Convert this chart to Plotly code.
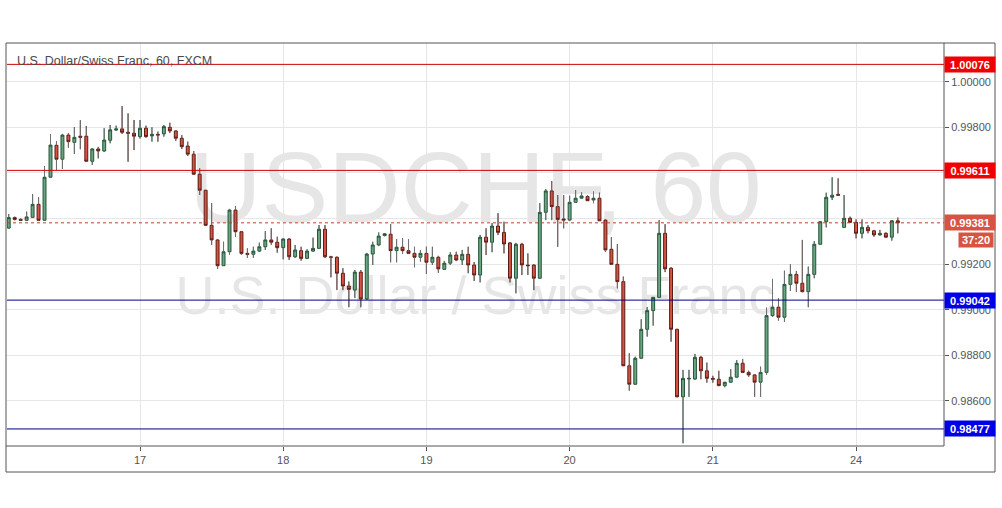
import plotly.graph_objects as go

# ---------------- data ----------------
title_text = "U.S. Dollar/Swiss Franc, 60, FXCM"
watermark_symbol = "USDCHF, 60"
watermark_name = "U.S. Dollar / Swiss Franc"

day_labels = ["17", "18", "19", "20", "21", "24"]
day_bar_index = [22, 46, 70, 94, 118, 142]

price_ticks = [0.986, 0.988, 0.990, 0.992, 0.994, 0.996, 0.998, 1.000]
# 0.99400 and 0.99600 sit fully behind the price labels in the reference
price_tick_labels = ["0.98600", "0.98800", "0.99000", "0.99200", "", "", "0.99800", "1.00000"]

resistance_levels = [1.00076, 0.99611]
support_levels = [0.99042, 0.98477]
last_price = 0.99381
countdown_text = "37:20"

open_ = [0.99358, 0.99404, 0.99396, 0.99392, 0.99405, 0.99462, 0.99392, 0.99581, 0.99721, 0.99660,
         0.99766, 0.99734, 0.99761, 0.99761, 0.99651, 0.99705, 0.99696, 0.99743, 0.99788, 0.99793,
         0.99778, 0.99774, 0.99759, 0.99796, 0.99762, 0.99769, 0.99771, 0.99800, 0.99784, 0.99752,
         0.99718, 0.99682, 0.99594, 0.99524, 0.99370, 0.99306, 0.99193, 0.99254, 0.99437, 0.99342,
         0.99247, 0.99243, 0.99257, 0.99276, 0.99306, 0.99296, 0.99272, 0.99310, 0.99232, 0.99259,
         0.99225, 0.99257, 0.99269, 0.99353, 0.99232, 0.99230, 0.99160, 0.99104, 0.99086, 0.99165,
         0.99047, 0.99244, 0.99284, 0.99325, 0.99331, 0.99259, 0.99274, 0.99259, 0.99247, 0.99230,
         0.99247, 0.99208, 0.99230, 0.99177, 0.99204, 0.99240, 0.99218, 0.99243, 0.99196, 0.99152,
         0.99318, 0.99296, 0.99367, 0.99339, 0.99293, 0.99138, 0.99287, 0.99196, 0.99196, 0.99138,
         0.99427, 0.99521, 0.99452, 0.99398, 0.99393, 0.99471, 0.99489, 0.99496, 0.99481, 0.99489,
         0.99393, 0.99265, 0.99199, 0.99123, 0.98754, 0.98673, 0.98787, 0.98914, 0.98996, 0.99054,
         0.99335, 0.99182, 0.98914, 0.98618, 0.98696, 0.98696, 0.98791, 0.98732, 0.98699, 0.98695,
         0.98667, 0.98682, 0.98704, 0.98765, 0.98725, 0.98714, 0.98682, 0.98725, 0.98974, 0.99011,
         0.98967, 0.99111, 0.99155, 0.99116, 0.99079, 0.99155, 0.99287, 0.99386, 0.99493, 0.99506,
         0.99361, 0.99401, 0.99383, 0.99335, 0.99361, 0.99346, 0.99328, 0.99335, 0.99318, 0.99390]

high = [0.99420, 0.99408, 0.99400, 0.99430, 0.99507, 0.99493, 0.99629, 0.99769, 0.99740, 0.99771,
        0.99775, 0.99801, 0.99831, 0.99806, 0.99709, 0.99714, 0.99796, 0.99810, 0.99807, 0.99893,
        0.99861, 0.99832, 0.99832, 0.99807, 0.99800, 0.99781, 0.99810, 0.99820, 0.99788, 0.99766,
        0.99737, 0.99696, 0.99620, 0.99525, 0.99467, 0.99308, 0.99298, 0.99442, 0.99455, 0.99344,
        0.99269, 0.99276, 0.99294, 0.99345, 0.99357, 0.99320, 0.99314, 0.99314, 0.99284, 0.99276,
        0.99265, 0.99316, 0.99371, 0.99371, 0.99236, 0.99233, 0.99182, 0.99123, 0.99174, 0.99174,
        0.99249, 0.99298, 0.99339, 0.99336, 0.99376, 0.99310, 0.99313, 0.99310, 0.99276, 0.99262,
        0.99276, 0.99276, 0.99236, 0.99214, 0.99252, 0.99254, 0.99262, 0.99276, 0.99209, 0.99328,
        0.99357, 0.99380, 0.99423, 0.99386, 0.99297, 0.99293, 0.99293, 0.99247, 0.99200, 0.99467,
        0.99529, 0.99564, 0.99503, 0.99503, 0.99500, 0.99525, 0.99515, 0.99503, 0.99518, 0.99513,
        0.99395, 0.99318, 0.99288, 0.99145, 0.98809, 0.98794, 0.98958, 0.99011, 0.99056, 0.99393,
        0.99375, 0.99186, 0.98916, 0.98736, 0.98736, 0.98806, 0.98797, 0.98768, 0.98710, 0.98732,
        0.98683, 0.98739, 0.98779, 0.98784, 0.98732, 0.98716, 0.98750, 0.99009, 0.99135, 0.99050,
        0.99171, 0.99199, 0.99170, 0.99306, 0.99189, 0.99301, 0.99389, 0.99513, 0.99581, 0.99576,
        0.99503, 0.99408, 0.99396, 0.99396, 0.99371, 0.99350, 0.99350, 0.99339, 0.99393, 0.99404]

low = [0.99354, 0.99392, 0.99389, 0.99391, 0.99404, 0.99391, 0.99391, 0.99578, 0.99613, 0.99617,
       0.99711, 0.99683, 0.99704, 0.99648, 0.99635, 0.99664, 0.99692, 0.99730, 0.99784, 0.99771,
       0.99649, 0.99700, 0.99751, 0.99755, 0.99737, 0.99737, 0.99759, 0.99775, 0.99741, 0.99705,
       0.99674, 0.99591, 0.99503, 0.99367, 0.99284, 0.99179, 0.99192, 0.99240, 0.99320, 0.99240,
       0.99228, 0.99228, 0.99253, 0.99262, 0.99285, 0.99250, 0.99221, 0.99218, 0.99227, 0.99215,
       0.99224, 0.99253, 0.99266, 0.99227, 0.99142, 0.99086, 0.99086, 0.99011, 0.99051, 0.99011,
       0.99043, 0.99196, 0.99279, 0.99322, 0.99208, 0.99208, 0.99244, 0.99244, 0.99186, 0.99211,
       0.99157, 0.99196, 0.99162, 0.99174, 0.99196, 0.99213, 0.99196, 0.99160, 0.99126, 0.99120,
       0.99240, 0.99252, 0.99328, 0.99247, 0.99120, 0.99072, 0.99152, 0.99152, 0.99086, 0.99135,
       0.99393, 0.99393, 0.99276, 0.99357, 0.99389, 0.99468, 0.99486, 0.99477, 0.99467, 0.99389,
       0.99254, 0.99197, 0.99094, 0.98753, 0.98645, 0.98670, 0.98784, 0.98882, 0.98930, 0.99051,
       0.99165, 0.98860, 0.98616, 0.98414, 0.98618, 0.98692, 0.98695, 0.98680, 0.98680, 0.98665,
       0.98660, 0.98679, 0.98700, 0.98722, 0.98706, 0.98618, 0.98618, 0.98714, 0.98968, 0.98952,
       0.98947, 0.99082, 0.99079, 0.99077, 0.99011, 0.99138, 0.99284, 0.99361, 0.99481, 0.99499,
       0.99358, 0.99381, 0.99313, 0.99313, 0.99335, 0.99320, 0.99325, 0.99317, 0.99303, 0.99335]

close = [0.99404, 0.99396, 0.99392, 0.99407, 0.99462, 0.99392, 0.99581, 0.99722, 0.99660, 0.99766,
         0.99737, 0.99756, 0.99756, 0.99651, 0.99705, 0.99696, 0.99744, 0.99789, 0.99793, 0.99778,
         0.99774, 0.99761, 0.99796, 0.99759, 0.99769, 0.99766, 0.99803, 0.99784, 0.99752, 0.99715,
         0.99682, 0.99594, 0.99524, 0.99370, 0.99306, 0.99193, 0.99254, 0.99437, 0.99342, 0.99247,
         0.99243, 0.99257, 0.99276, 0.99306, 0.99296, 0.99272, 0.99310, 0.99232, 0.99262, 0.99225,
         0.99257, 0.99269, 0.99353, 0.99232, 0.99230, 0.99160, 0.99104, 0.99089, 0.99165, 0.99047,
         0.99244, 0.99284, 0.99323, 0.99333, 0.99259, 0.99274, 0.99259, 0.99247, 0.99230, 0.99247,
         0.99208, 0.99230, 0.99179, 0.99204, 0.99240, 0.99218, 0.99243, 0.99196, 0.99152, 0.99318,
         0.99296, 0.99367, 0.99339, 0.99288, 0.99138, 0.99287, 0.99196, 0.99193, 0.99138, 0.99427,
         0.99521, 0.99452, 0.99396, 0.99393, 0.99471, 0.99489, 0.99499, 0.99478, 0.99489, 0.99390,
         0.99262, 0.99199, 0.99123, 0.98754, 0.98673, 0.98787, 0.98914, 0.98996, 0.99054, 0.99335,
         0.99179, 0.98914, 0.98618, 0.98699, 0.98699, 0.98791, 0.98732, 0.98699, 0.98695, 0.98667,
         0.98682, 0.98704, 0.98765, 0.98725, 0.98714, 0.98682, 0.98725, 0.98974, 0.99011, 0.98967,
         0.99111, 0.99155, 0.99116, 0.99079, 0.99155, 0.99287, 0.99386, 0.99493, 0.99502, 0.99502,
         0.99401, 0.99383, 0.99335, 0.99361, 0.99346, 0.99328, 0.99335, 0.99318, 0.99390, 0.99381]

# ---------------- styling ----------------
FONT = "Liberation Sans"
UP_FILL, UP_LINE = "#6ba583", "#225437"
DN_FILL, DN_LINE = "#d75442", "#5b1a13"
WICK = "#737375"
GRID = "#e6e6e6"
FRAME = "#555555"
TXT = "#555555"

bars = list(range(len(open_)))

fig = go.Figure()

# watermark (base hidden axes, drawn under the candles)
fig.add_trace(go.Scatter(
    x=[0.5, 0.5], y=[0.617, 0.362], mode="text",
    text=[watermark_symbol, watermark_name],
    textfont=dict(family=FONT, size=[100, 54], color="#e6e6e6"),
    xaxis="x", yaxis="y", hoverinfo="skip", showlegend=False))

fig.add_trace(go.Candlestick(
    x=bars, open=open_, high=high, low=low, close=close,
    xaxis="x2", yaxis="y2", whiskerwidth=0,
    increasing=dict(fillcolor=UP_FILL, line=dict(color=UP_LINE, width=1)),
    decreasing=dict(fillcolor=DN_FILL, line=dict(color=DN_LINE, width=1)),
    hoverinfo="skip", showlegend=False))

# grey wicks on top of candle whiskers
wx, wy = [], []
for i, (o, h, l, c) in enumerate(zip(open_, high, low, close)):
    top, bot = max(o, c), min(o, c)
    wx += [i, i, None, i, i, None]
    wy += [h, top, None, bot, l, None]
fig.add_trace(go.Scatter(x=wx, y=wy, mode="lines", line=dict(color=WICK, width=1),
                         xaxis="x2", yaxis="y2", hoverinfo="skip", showlegend=False))

# ---------------- shapes ----------------
shapes = []
for lv in resistance_levels:
    shapes.append(dict(type="line", xref="paper", yref="y2", x0=0, x1=1, y0=lv, y1=lv,
                       line=dict(color="#cc0000", width=1)))
for lv in support_levels:
    shapes.append(dict(type="line", xref="paper", yref="y2", x0=0, x1=1, y0=lv, y1=lv,
                       line=dict(color="#000080", width=1)))
shapes.append(dict(type="line", xref="paper", yref="y2", x0=0, x1=1, y0=last_price, y1=last_price,
                   line=dict(color="#b5452f", width=1, dash="dot")))

PW, PH = 937.0, 403.0
xl = -1.0 / PW
xr = (995.0 - 7.0) / PW
yb = -26.0 / PH
frame_lines = [
    (xl, 1, xr, 1), (xl, yb, xr, yb), (xl, yb, xl, 1), (xr, yb, xr, 1),
    (xl, 0, 1, 0), (1, 0, 1, 1),
]
for x0, y0, x1, y1 in frame_lines:
    shapes.append(dict(type="line", xref="paper", yref="paper", x0=x0, y0=y0, x1=x1, y1=y1,
                       line=dict(color=FRAME, width=1)))

# ---------------- annotations ----------------
ann = [dict(text=title_text, xref="paper", yref="paper", x=8.0 / PW, y=(446 - 60.5) / PH,
            xanchor="left", yanchor="middle", showarrow=False,
            font=dict(family=FONT, size=12.5, color="#4a4a4a"))]


def price_label(val, bg):
    return dict(text=f"{val:.5f}", xref="paper", yref="y2", x=1.0, y=val,
                xanchor="left", yanchor="middle", showarrow=False,
                bgcolor=bg, width=48, height=13, borderpad=1, align="center",
                font=dict(family=FONT, size=11, color="white", weight="bold"))


for lv in resistance_levels:
    ann.append(price_label(lv, "#f00000"))
for lv in support_levels:
    ann.append(price_label(lv, "#0000e6"))
ann.append(price_label(last_price, DN_FILL))
ann.append(dict(text=countdown_text, xref="paper", yref="y2", x=(994.0 - 7.0) / PW, y=last_price,
                yshift=-17, xanchor="right", yanchor="middle", showarrow=False,
                bgcolor=DN_FILL, width=32, height=12, borderpad=1, align="center",
                font=dict(family=FONT, size=11, color="white", weight="bold")))

fig.update_layout(
    width=1002, height=508,
    margin=dict(l=7, r=58, t=43, b=62),
    paper_bgcolor="white", plot_bgcolor="white",
    showlegend=False, hovermode=False,
    shapes=shapes, annotations=ann,
    xaxis=dict(range=[0, 1], visible=False, fixedrange=True, rangeslider=dict(visible=False)),
    yaxis=dict(range=[0, 1], visible=False, fixedrange=True),
    xaxis2=dict(overlaying="x", anchor="y2", side="bottom",
                range=[-0.29, 156.74], tickmode="array",
                tickvals=day_bar_index, ticktext=day_labels,
                showgrid=True, gridcolor=GRID, gridwidth=1, zeroline=False, showline=False,
                ticks="outside", ticklen=4, tickcolor=FRAME,
                tickfont=dict(family=FONT, size=11, color=TXT),
                rangeslider=dict(visible=False)),
    yaxis2=dict(overlaying="y", anchor="x2", side="right",
                range=[0.984022, 1.001697], tickmode="array",
                tickvals=price_ticks, ticktext=price_tick_labels,
                showgrid=True, gridcolor=GRID, gridwidth=1, zeroline=False, showline=False,
                ticks="outside", ticklen=4, tickcolor=FRAME,
                tickfont=dict(family=FONT, size=11, color=TXT)),
)

fig.write_html("out.html", config={"displayModeBar": False},
               post_script="document.body.style.margin='0';document.body.style.overflow='hidden';")
